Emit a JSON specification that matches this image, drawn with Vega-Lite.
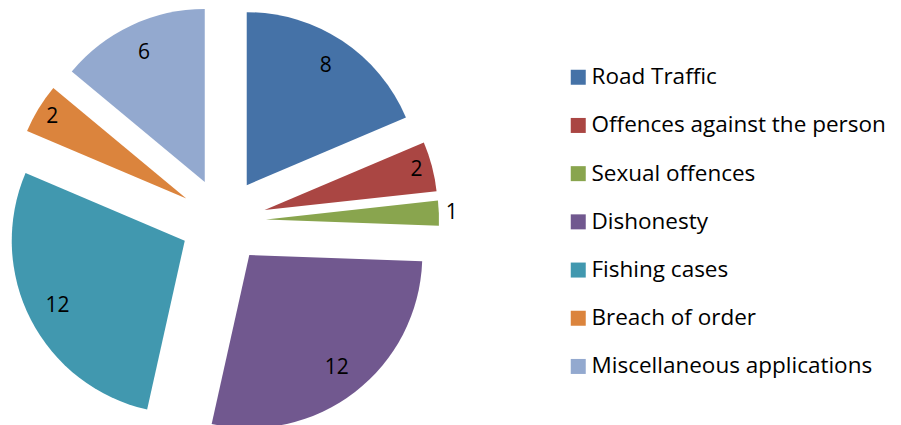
{
  "$schema": "https://vega.github.io/schema/vega-lite/v6.json",
  "width": 901,
  "height": 425,
  "autosize": "none",
  "padding": 0,
  "config": {"view": {"stroke": null}, "font": "Open Sans"},
  "data": {
    "values": [
      {"category": "Road Traffic", "cases": 8},
      {"category": "Offences against the person", "cases": 2},
      {"category": "Sexual offences", "cases": 1},
      {"category": "Dishonesty", "cases": 12},
      {"category": "Fishing cases", "cases": 12},
      {"category": "Breach of order", "cases": 2},
      {"category": "Miscellaneous applications", "cases": 6}
    ]
  },
  "transform": [
    {"window": [{"op": "sum", "field": "cases", "as": "cum"}], "frame": [null, 0]},
    {"joinaggregate": [{"op": "sum", "field": "cases", "as": "total"}]},
    {"calculate": "2*PI*(datum.cum - datum.cases)/datum.total", "as": "a0"},
    {"calculate": "2*PI*datum.cum/datum.total", "as": "a1"},
    {"calculate": "(datum.a0 + datum.a1)/2", "as": "am"},
    {"calculate": "43*sin(datum.am)", "as": "ox"},
    {"calculate": "43*cos(datum.am)", "as": "oy"},
    {"calculate": "datum.cases <= 1 ? 186 : datum.cases <= 2 ? 157 : 143", "as": "lr"},
    {"calculate": "datum.ox + datum.lr*sin(datum.am)", "as": "lx"},
    {"calculate": "datum.oy + datum.lr*cos(datum.am)", "as": "ly"}
  ],
  "layer": [
    {
      "mark": {"type": "arc", "radius": 173},
      "encoding": {
        "theta": {"field": "a0", "type": "quantitative", "scale": null, "stack": null},
        "theta2": {"field": "a1"},
        "x": {"field": "ox", "type": "quantitative", "scale": {"domain": [-223, 678], "nice": false, "zero": false}, "axis": null},
        "y": {"field": "oy", "type": "quantitative", "scale": {"domain": [-204, 221], "nice": false, "zero": false}, "axis": null},
        "color": {
          "field": "category",
          "type": "nominal",
          "scale": {
            "domain": ["Road Traffic", "Offences against the person", "Sexual offences", "Dishonesty", "Fishing cases", "Breach of order", "Miscellaneous applications"],
            "range": ["#4572A7", "#AA4643", "#89A54E", "#71588F", "#4198AF", "#DB843D", "#93A9CF"]
          },
          "legend": {
            "title": null,
            "orient": "none",
            "legendX": 567,
            "legendY": 66,
            "symbolType": "square",
            "symbolSize": 225,
            "symbolStrokeWidth": 0,
            "labelFontSize": 22.5,
            "labelColor": "black",
            "labelFont": "Open Sans",
            "labelOffset": 2,
            "rowPadding": 25.2,
            "labelLimit": 400
          }
        }
      }
    },
    {
      "mark": {"type": "text", "fontSize": 21, "color": "black", "font": "Open Sans"},
      "encoding": {
        "x": {"field": "lx", "type": "quantitative", "scale": {"domain": [-223, 678], "nice": false, "zero": false}, "axis": null},
        "y": {"field": "ly", "type": "quantitative", "scale": {"domain": [-204, 221], "nice": false, "zero": false}, "axis": null},
        "text": {"field": "cases", "type": "quantitative"}
      }
    }
  ]
}
